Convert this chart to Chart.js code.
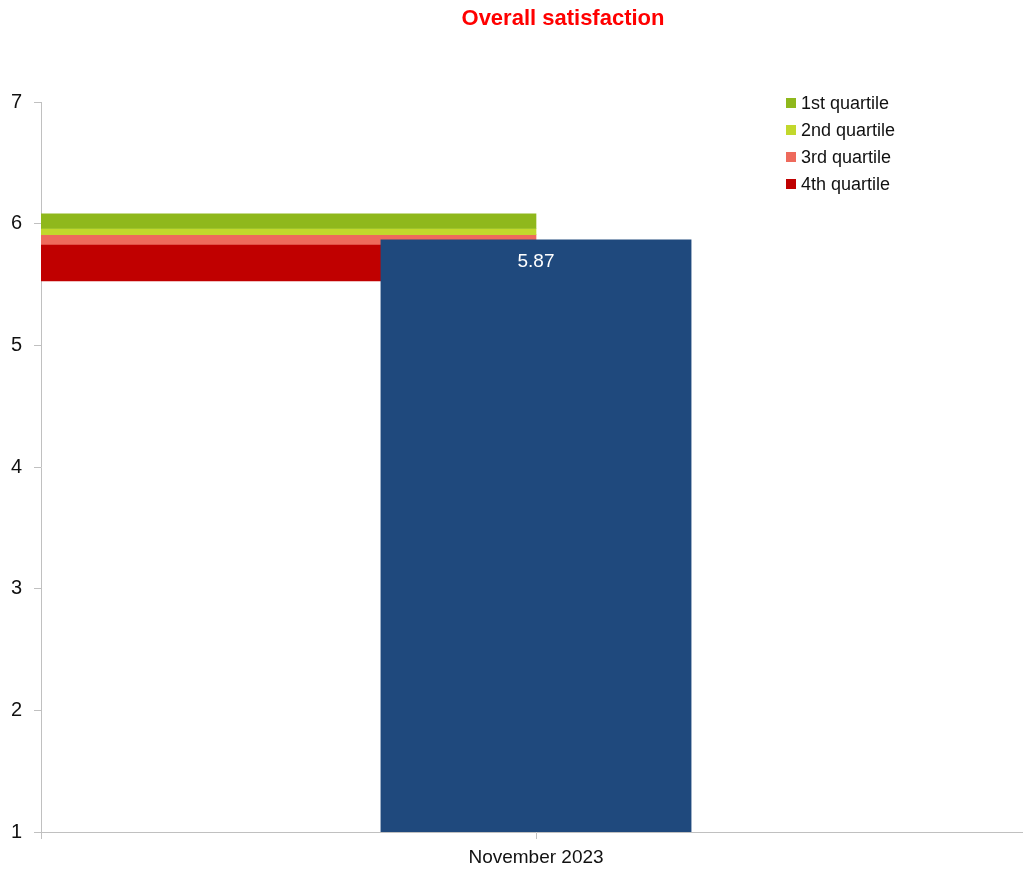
<!DOCTYPE html>
<html>
<head>
<meta charset="utf-8">
<script src="https://cdn.jsdelivr.net/npm/chart.js@4.4.1/dist/chart.umd.min.js"></script>
<style>
  html, body { margin: 0; padding: 0; background: #ffffff; overflow: hidden; }
  #wrap { position: absolute; left: 0; top: 0; width: 1032px; height: 872px; }
</style>
</head>
<body>
<div id="wrap"><canvas id="chart" width="1032" height="872"></canvas></div>
<script>
// Survey period and the overall score
const categories = ['November 2023'];
const scoreValues = [5.87];

// Quartile bands (low / high bounds of each band)
const quartileLabels = ['1st quartile', '2nd quartile', '3rd quartile', '4th quartile'];
const quartileLow  = [5.96, 5.91, 5.83, 5.53];
const quartileHigh = [6.08, 5.96, 5.91, 5.83];
const quartileColors = ['#8fb81c', '#c2d82c', '#ee6a5c', '#c00000'];

// Y axis range
const yMin = 1;
const yMax = 7;

const chartTitle = 'Overall satisfaction';
const FONT = '"Liberation Sans", Arial, sans-serif';

const quartileSets = quartileLabels.map((label, i) => ({
  label: label,
  data: [[quartileLow[i], quartileHigh[i]], null],
  backgroundColor: quartileColors[i],
  xAxisID: 'xq',
  grouped: false,
  barPercentage: 1,
  categoryPercentage: 1,
  order: 1
}));

// Title, legend box, in-bar value label and the corner tick of the x axis
const decorations = {
  id: 'decorations',
  afterDatasetsDraw(chart) {
    const ctx = chart.ctx;
    const area = chart.chartArea;
    ctx.save();
    // value label inside the score bar
    const meta = chart.getDatasetMeta(0);
    meta.data.forEach((bar, i) => {
      ctx.fillStyle = '#ffffff';
      ctx.font = '19px ' + FONT;
      ctx.textAlign = 'center';
      ctx.textBaseline = 'middle';
      ctx.fillText(scoreValues[i].toFixed(2), bar.x, bar.y + 22);
    });
    // corner tick below the x axis at the left edge
    ctx.strokeStyle = '#c0c0c0';
    ctx.lineWidth = 1;
    ctx.beginPath();
    ctx.moveTo(Math.round(area.left) + 0.5, area.bottom);
    ctx.lineTo(Math.round(area.left) + 0.5, area.bottom + 7);
    ctx.stroke();
    // title
    ctx.fillStyle = '#ff0000';
    ctx.font = 'bold 22px ' + FONT;
    ctx.textAlign = 'center';
    ctx.textBaseline = 'middle';
    ctx.fillText(chartTitle, 563, 19);
    // legend
    ctx.font = '18px ' + FONT;
    ctx.textAlign = 'left';
    quartileLabels.forEach((label, i) => {
      const cy = 103 + i * 27;
      ctx.fillStyle = quartileColors[i];
      ctx.fillRect(786, cy - 5, 10, 10);
      ctx.fillStyle = '#111111';
      ctx.fillText(label, 801, cy + 1);
    });
    ctx.restore();
  }
};

new Chart(document.getElementById('chart'), {
  type: 'bar',
  data: {
    labels: categories,
    datasets: [
      {
        label: 'Overall satisfaction',
        data: scoreValues,
        backgroundColor: '#1f497d',
        xAxisID: 'x',
        grouped: false,
        barPercentage: 0.314,
        categoryPercentage: 1,
        order: 0
      },
      ...quartileSets
    ]
  },
  options: {
    responsive: false,
    animation: false,
    layout: { padding: { top: 102, right: 1, left: 0, bottom: 0 } },
    plugins: {
      legend: { display: false },
      title: { display: false },
      tooltip: { enabled: false }
    },
    scales: {
      x: {
        type: 'category',
        offset: true,
        afterFit(scale) { scale.height = 40; },
        grid: {
          offset: false,
          drawOnChartArea: false,
          drawTicks: true,
          tickLength: 7,
          color: '#c0c0c0'
        },
        border: { color: '#c0c0c0' },
        ticks: { color: '#111111', font: { family: FONT, size: 19 }, padding: 7 }
      },
      xq: {
        type: 'category',
        labels: ['a', 'b'],
        offset: true,
        display: false
      },
      y: {
        min: yMin,
        max: yMax,
        afterFit(scale) { scale.width = 41; },
        grid: {
          drawOnChartArea: false,
          drawTicks: true,
          tickLength: 7,
          color: '#c0c0c0'
        },
        border: { color: '#c0c0c0' },
        ticks: {
          stepSize: 1,
          color: '#111111',
          font: { family: FONT, size: 20 },
          padding: 12
        }
      }
    }
  },
  plugins: [decorations]
});
</script>
</body>
</html>
